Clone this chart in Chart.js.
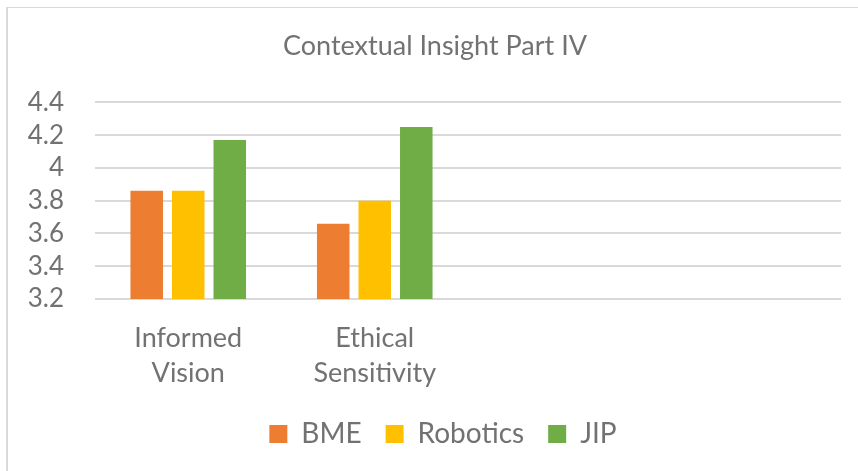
<!DOCTYPE html>
<html>
<head>
<meta charset="utf-8">
<script src="https://cdn.jsdelivr.net/npm/chart.js@4"></script>
<style>
  html, body { margin: 0; padding: 0; background: #fff; overflow: hidden; }
  #wrap { position: relative; width: 858px; height: 471px; }
  #frame {
    position: absolute; left: 6px; top: 7px; width: 900px; height: 500px;
    border-left: 2px solid #d9d9d9; border-top: 1px solid #d9d9d9;
  }
  #chart { position: absolute; left: 0; top: 0; }
</style>
</head>
<body>
<div id="wrap">
  <div id="frame"></div>
  <canvas id="chart" width="858" height="471"></canvas>
</div>
<script>
// Contextual Insight Part IV - mean scores per cohort
const categories = [['Informed', 'Vision'], ['Ethical', 'Sensitivity'], '', ''];
const bme = [3.86, 3.66, null, null];
const robotics = [3.86, 3.80, null, null];
const jip = [4.17, 4.25, null, null];
const yTicks = [3.2, 3.4, 3.6, 3.8, 4, 4.2, 4.4];

const textColor = '#727272';
const fontFamily = 'Lato, "Open Sans", sans-serif';

function series(label, data, color) {
    return {
        label: label,
        data: data,
        backgroundColor: color,
        borderWidth: 0,
        categoryPercentage: 0.668,
        barPercentage: 0.783
    };
}

// nudge title and legend to the right of the full-width centre
const offsetBlocks = {
    id: 'offsetBlocks',
    afterLayout(chart) {
        if (chart.titleBlock) chart.titleBlock.left += 29;
        if (chart.legend) chart.legend.left += 45;
    }
};

new Chart(document.getElementById('chart'), {
    type: 'bar',
    data: {
        labels: categories,
        datasets: [
            series('BME', bme, '#ED7D31'),
            series('Robotics', robotics, '#FFC000'),
            series('JIP', jip, '#70AD47')
        ]
    },
    plugins: [offsetBlocks],
    options: {
        responsive: false,
        animation: false,
        layout: { padding: { left: 0, right: 17, top: 0, bottom: 13 } },
        plugins: {
            title: {
                display: true,
                text: 'Contextual Insight Part IV',
                color: textColor,
                font: { family: fontFamily, size: 27, weight: 'normal' },
                padding: { top: 30, bottom: 40 }
            },
            legend: {
                position: 'bottom',
                labels: {
                    color: textColor,
                    font: { family: fontFamily, size: 28 },
                    boxWidth: 18,
                    boxHeight: 18,
                    padding: 24
                }
            },
            tooltip: { enabled: false }
        },
        scales: {
            x: {
                afterFit: (scale) => { scale.height = 97; },
                grid: { display: false, drawTicks: false },
                border: { display: false },
                ticks: {
                    color: textColor,
                    font: { family: fontFamily, size: 27, lineHeight: 1.3 },
                    padding: 22,
                    maxRotation: 0,
                    autoSkip: false
                }
            },
            y: {
                min: yTicks[0],
                max: yTicks[yTicks.length - 1],
                afterFit: (scale) => { scale.width = 95; },
                afterBuildTicks: (scale) => {
                    scale.ticks = yTicks.map(v => ({ value: v }));
                },
                grid: { color: '#d9d9d9', lineWidth: 2, drawTicks: false },
                border: { display: false },
                ticks: {
                    color: textColor,
                    font: { family: fontFamily, size: 26 },
                    padding: 31,
                    autoSkip: false,
                    callback: (v) => String(+Number(v).toFixed(1))
                }
            }
        }
    }
});
</script>
</body>
</html>
